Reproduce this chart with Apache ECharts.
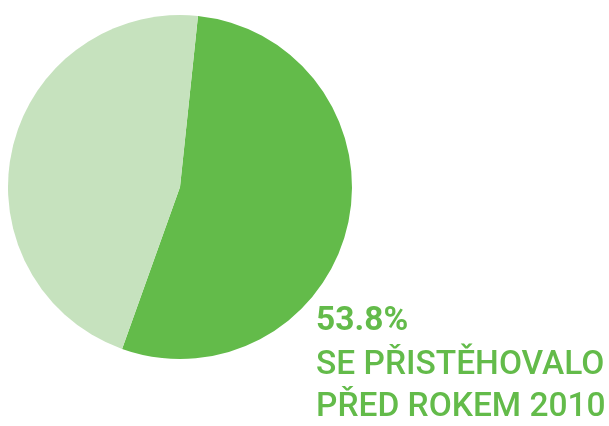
<!DOCTYPE html>
<html>
<head>
    <meta charset="UTF-8">
    <title>Přistěhovalí</title>
    <style>
        html, body { margin: 0; padding: 0; background: #fff; }
        #chart { width: 609px; height: 426px; }
    </style>
    <script src="https://cdn.jsdelivr.net/npm/echarts@6/dist/echarts.min.js"></script>
</head>
<body>
<div id="chart"></div>
<script type="text/javascript">
    // podíly v procentech
    var labels = ['Před rokem 2010', 'Od roku 2010'];
    var values = [53.8, 46.2];
    var colors = ['#63bb4a', '#c6e2be'];
    var textLines = ['53.8%', 'SE PŘISTĚHOVALO', 'PŘED ROKEM 2010'];

    var data = [];
    for (var i = 0; i < values.length; i++) {
        data.push({ name: labels[i], value: values[i], itemStyle: { color: colors[i] } });
    }

    var myChart = echarts.init(document.getElementById('chart'), null, { renderer: 'canvas' });

    var option = {
        animation: false,
        series: [{
            type: 'pie',
            center: [180, 187],
            radius: [0, 172],
            startAngle: 84,
            clockwise: true,
            label: { show: false },
            labelLine: { show: false },
            emphasis: { disabled: true },
            data: data
        }],
        graphic: [
            {
                type: 'text', left: 316, top: 305,
                style: { text: textLines[0], fill: '#63bb4a', font: 'bold 33.5px Roboto' }
            },
            {
                type: 'text', left: 316, top: 349,
                style: { text: textLines[1], fill: '#63bb4a', font: '500 33.5px Roboto' }
            },
            {
                type: 'text', left: 316, top: 391,
                style: { text: textLines[2], fill: '#63bb4a', font: '500 33.5px Roboto' }
            }
        ]
    };

    myChart.setOption(option);
</script>
</body>
</html>
